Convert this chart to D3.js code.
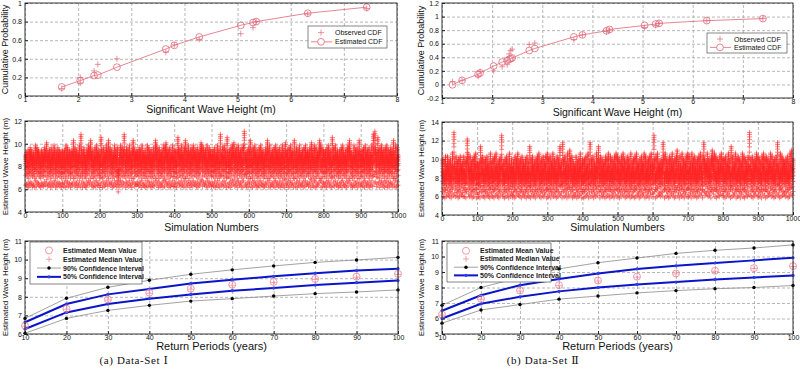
<!DOCTYPE html>
<html>
<head>
<meta charset="utf-8">
<script src="https://cdn.jsdelivr.net/npm/d3@7"></script>
<style>
body { margin: 0; background: #fff; }
svg { display: block; font-family: "Liberation Sans", Arial, sans-serif; }
</style>
</head>
<body>
<div id="container"></div>
<script>
// ---------- data: cumulative probability (top row) ----------
const estHeightA = [1.69, 2.04, 2.30, 2.37, 2.73, 3.65, 3.81, 4.28, 5.06, 5.29, 5.35, 6.32, 7.43];
const estProbA   = [0.097, 0.165, 0.22, 0.225, 0.31, 0.505, 0.545, 0.635, 0.76, 0.79, 0.80, 0.89, 0.955];
const obsHeightA = [1.69, 2.04, 2.04, 2.30, 2.37, 2.73, 3.65, 3.81, 4.28, 5.06, 5.29, 5.35, 6.32, 7.43];
const obsProbA   = [0.08, 0.14, 0.20, 0.27, 0.34, 0.40, 0.47, 0.55, 0.61, 0.67, 0.735, 0.80, 0.88, 0.94];

const estHeightB = [1.21, 1.40, 1.72, 1.76, 2.03, 2.20, 2.30, 2.34, 2.37, 2.40, 2.74, 2.85, 3.63, 3.80, 4.28, 4.34, 5.04, 5.26, 5.33, 6.28, 7.40];
const estProbB   = [-0.005, 0.06, 0.15, 0.17, 0.27, 0.33, 0.35, 0.37, 0.38, 0.39, 0.50, 0.53, 0.70, 0.73, 0.79, 0.81, 0.87, 0.89, 0.90, 0.94, 0.97];
const obsProbB   = [0.04, 0.06, 0.12, 0.19, 0.20, 0.26, 0.29, 0.45, 0.50, 0.52, 0.59, 0.61, 0.66, 0.73, 0.78, 0.80, 0.84, 0.87, 0.90, 0.94, 0.97];

// ---------- data: return periods (bottom row) ----------
const returnPeriods = [10, 20, 30, 40, 50, 60, 70, 80, 90, 100];

const meanA     = [6.45, 7.36, 7.86, 8.22, 8.44, 8.65, 8.80, 8.96, 9.08, 9.23];
const medianA   = [6.42, 7.33, 7.83, 8.19, 8.41, 8.62, 8.77, 8.93, 9.05, 9.20];
const ci90HighA = [6.84, 7.92, 8.51, 8.89, 9.21, 9.45, 9.66, 9.85, 9.98, 10.12];
const ci50HighA = [6.63, 7.61, 8.13, 8.42, 8.71, 8.92, 9.10, 9.26, 9.41, 9.51];
const ci50LowA  = [6.27, 7.16, 7.61, 7.90, 8.13, 8.33, 8.47, 8.63, 8.76, 8.87];
const ci90LowA  = [6.04, 6.84, 7.27, 7.54, 7.77, 7.90, 8.04, 8.17, 8.26, 8.37];

const meanB     = [6.25, 7.27, 7.80, 8.15, 8.45, 8.70, 8.90, 9.08, 9.25, 9.38];
const medianB   = [6.22, 7.24, 7.77, 8.12, 8.42, 8.67, 8.87, 9.05, 9.22, 9.35];
const ci90HighB = [6.85, 8.00, 8.65, 9.20, 9.60, 9.90, 10.20, 10.40, 10.55, 10.75];
const ci50HighB = [6.50, 7.50, 8.15, 8.55, 8.90, 9.20, 9.40, 9.58, 9.75, 9.92];
const ci50LowB  = [6.00, 6.95, 7.40, 7.75, 8.00, 8.20, 8.35, 8.52, 8.65, 8.78];
const ci90LowB  = [5.70, 6.55, 6.90, 7.25, 7.45, 7.65, 7.80, 7.92, 8.00, 8.13];

// ---------- data: per-simulation level (middle row), one code per 2 simulations ----------
// codes read off as relative height in the band; letters mark the spikes, 'z' the low outlier
const simLevelA = [
  "4536257463" + "4528375643" + "2654374693" + "5462735486" + "2537463526",
  "5362847356" + "2465a37462" + "5483c62574" + "3265847a53" + "6247385462",
  "4b62735486" + "3a57462538" + "4637z25847" + "36c5274638" + "4526a73546",
  "5374628453" + "6248375362" + "4735a84627" + "3546283795" + "4627354836",
  "3625b74638" + "4527a36485" + "2647385463" + "7254698375" + "4638257463",
  "4637254836" + "2c54738462" + "b536274859" + "3647285463" + "728d453627",
  "5a36274853" + "6247385462" + "3574a62835" + "4637285463" + "7254836295",
  "4627385462" + "a537264835" + "4627384563" + "5729463827" + "3546a82736",
  "5362748536" + "2b47385462" + "3647285436" + "2748a63524" + "8364725a63",
  "4637285463" + "725483c6d7" + "35b6274853" + "6274836257" + "463a528374"
].join("");
const simLevelB = [
  "7362835846" + "372594f638" + "4627385463" + "83627d9538" + "4627385926",
  "5362b74836" + "2748536294" + "6372849536" + "2748e53627" + "3846295374",
  "4628375946" + "3728465372" + "8463b27485" + "3627485936" + "2748365829",
  "3748265937" + "4628375b46" + "2c73846295" + "3a74826354" + "8263749527",
  "6273845926" + "c374826539" + "47b6284735" + "6283749528" + "3746285938",
  "4726385947" + "2638475293" + "6472839465" + "2738465928" + "3647285936",
  "5e72839465" + "3746c82937" + "4628375946" + "2738a46285" + "3947265839",
  "3846295738" + "4627385946" + "28c7465937" + "4628a75938" + "2746385947",
  "4728365947" + "2b38465927" + "3847265938" + "2746385f47" + "3826475938",
  "4736285947" + "2837465938" + "4627385c46" + "2938475637" + "4826395a47"
].join("");
const levelCode = { a: 2.0, b: 2.5, c: 3.0, d: 3.5, e: 4.0, f: 4.4, z: -2.8 };

// ---------- tick labels ----------
const cdfXTicks = [1, 2, 3, 4, 5, 6, 7, 8];
const cdfYTicksA = [0, 0.2, 0.4, 0.6, 0.8, 1];
const cdfYTicksB = [-0.2, 0, 0.2, 0.4, 0.6, 0.8, 1, 1.2];
const simXTicks = [0, 100, 200, 300, 400, 500, 600, 700, 800, 900, 1000];
const simYTicksA = [4, 6, 8, 10, 12];
const simYTicksB = [4, 6, 8, 10, 12, 14];
const rpYTicksA = [6, 7, 8, 9, 10, 11];
const rpYTicksB = [5, 6, 7, 8, 9, 10, 11];

const svg = d3.select('#container').append('svg')
  .attr('width', 800).attr('height', 369);

const fmt = d => String(+(+d).toFixed(1));

function plusPath(cx, cy, s) {
  return `M${cx - s},${cy}H${cx + s}M${cx},${cy - s}V${cy + s}`;
}

// axes, grid and labels of one panel
function panel(p) {
  const x = d3.scaleLinear().domain(p.xDomain).range([p.left, p.right]);
  const y = d3.scaleLinear().domain(p.yDomain).range([p.bottom, p.top]);
  const w = p.right - p.left, h = p.bottom - p.top;

  const gx = svg.append('g').attr('transform', `translate(0,${p.bottom})`)
    .call(d3.axisBottom(x).tickValues(p.xTicks).tickSize(-h).tickFormat(''));
  const gy = svg.append('g').attr('transform', `translate(${p.left},0)`)
    .call(d3.axisLeft(y).tickValues(p.yTicks).tickSize(-w).tickFormat(''));
  [gx, gy].forEach(g => {
    g.select('.domain').remove();
    g.selectAll('line').attr('stroke', '#9a9a9a').attr('stroke-width', 0.7)
      .attr('stroke-dasharray', '3,2');
  });

  const ax = svg.append('g').attr('transform', `translate(0,${p.bottom})`)
    .call(d3.axisBottom(x).tickValues(p.xTicks).tickSize(-3).tickPadding(1.5).tickFormat(fmt));
  const ay = svg.append('g').attr('transform', `translate(${p.left},0)`)
    .call(d3.axisLeft(y).tickValues(p.yTicks).tickSize(-3).tickPadding(3).tickFormat(fmt));
  [ax, ay].forEach(g => {
    g.select('.domain').remove();
    g.attr('font-family', null).attr('font-size', null);
    g.selectAll('text').attr('font-size', 7).attr('fill', '#111');
    g.selectAll('line').attr('stroke', '#222');
  });

  svg.append('text')
    .attr('x', (p.left + p.right) / 2).attr('y', p.titleY)
    .attr('text-anchor', 'middle').attr('font-size', p.titleSize).attr('fill', '#111')
    .text(p.xTitle);
  svg.append('text')
    .attr('transform', `translate(${p.yTitleX},${(p.top + p.bottom) / 2}) rotate(-90)`)
    .attr('text-anchor', 'middle').attr('font-size', p.yTitleSize).attr('fill', '#111')
    .text(p.yTitle);
  return { x, y, p };
}

function frame(c) {
  const p = c.p;
  svg.append('rect')
    .attr('x', p.left).attr('y', p.top)
    .attr('width', p.right - p.left).attr('height', p.bottom - p.top)
    .attr('fill', 'none').attr('stroke', '#222').attr('stroke-width', 0.9);
}

// ---------- top row: CDF ----------
const cdfColor = '#e06878';
function cdfPanel(c, estH, estP, obsH, obsP) {
  svg.append('path')
    .datum(estH.map((v, i) => [v, estP[i]]))
    .attr('fill', 'none').attr('stroke', cdfColor).attr('stroke-width', 0.8)
    .attr('d', d3.line().x(d => c.x(d[0])).y(d => c.y(d[1])));
  svg.append('g').selectAll('circle')
    .data(estH.map((v, i) => [v, estP[i]])).join('circle')
    .attr('cx', d => c.x(d[0])).attr('cy', d => c.y(d[1])).attr('r', 3.4)
    .attr('fill', 'none').attr('stroke', cdfColor).attr('stroke-width', 0.8);
  svg.append('g').selectAll('path')
    .data(obsH.map((v, i) => [v, obsP[i]])).join('path')
    .attr('d', d => plusPath(c.x(d[0]), c.y(d[1]), 3))
    .attr('stroke', cdfColor).attr('stroke-width', 0.7);
}

function cdfLegend(x0, y0, w, h) {
  const g = svg.append('g');
  g.append('rect').attr('x', x0).attr('y', y0).attr('width', w).attr('height', h)
    .attr('fill', '#fff').attr('stroke', '#555').attr('stroke-width', 0.7);
  const sx = x0 + 13, tx = x0 + 27;
  const r1 = y0 + h * 0.3, r2 = y0 + h * 0.72;
  g.append('path').attr('d', plusPath(sx, r1, 3)).attr('stroke', cdfColor).attr('stroke-width', 0.7);
  g.append('line').attr('x1', sx - 10).attr('x2', sx + 11).attr('y1', r2).attr('y2', r2)
    .attr('stroke', cdfColor).attr('stroke-width', 0.8);
  g.append('circle').attr('cx', sx).attr('cy', r2).attr('r', 3.4)
    .attr('fill', '#fff').attr('stroke', cdfColor).attr('stroke-width', 0.8);
  g.selectAll('text').data(['Observed CDF', 'Estimated CDF']).join('text')
    .attr('x', tx).attr('y', (d, i) => (i ? r2 : r1) + 2.5)
    .attr('font-size', 7).attr('fill', '#111').text(d => d);
}

const topA = panel({ left: 25, right: 397, top: 3, bottom: 96, xDomain: [1, 8], yDomain: [0, 1],
  xTicks: cdfXTicks, yTicks: cdfYTicksA, xTitle: 'Significant Wave Height (m)', titleY: 113, titleSize: 10.5,
  yTitle: 'Cumulative Probability', yTitleX: 8, yTitleSize: 9 });
cdfPanel(topA, estHeightA, estProbA, obsHeightA, obsProbA);
frame(topA);
cdfLegend(308, 26, 79, 22);

const topB = panel({ left: 442, right: 793, top: 3, bottom: 98, xDomain: [1, 8], yDomain: [-0.2, 1.2],
  xTicks: cdfXTicks, yTicks: cdfYTicksB, xTitle: 'Significant Wave Height (m)', titleY: 115.5, titleSize: 10.5,
  yTitle: 'Cumulative Probability', yTitleX: 424, yTitleSize: 9 });
cdfPanel(topB, estHeightB, estProbB, estHeightB, obsProbB);
frame(topB);
cdfLegend(707, 33, 80, 20);

// ---------- middle row: simulated wave heights ----------
function simPanel(c, levels, mean, lo90, hi90) {
  const n = levels.length;
  const pts = [];
  for (let i = 0; i < n; i++) {
    const ch = levels[i];
    const z = ch in levelCode ? levelCode[ch] : (+ch - 5) * 0.4;
    const sim = (i + 1) * 1000 / n;
    mean.forEach((m, k) => pts.push([sim, m + z * (hi90[k] - lo90[k]) / 3.29]));
  }
  svg.append('g').selectAll('path').data(pts).join('path')
    .attr('d', d => plusPath(c.x(d[0]), c.y(d[1]), 2.5))
    .attr('stroke', '#ff2626').attr('stroke-width', 0.8).attr('opacity', 0.75);
}

const midA = panel({ left: 25, right: 398, top: 121, bottom: 212, xDomain: [0, 1000], yDomain: [4, 12],
  xTicks: simXTicks, yTicks: simYTicksA, xTitle: 'Simulation Numbers', titleY: 231, titleSize: 10.5,
  yTitle: 'Estimated Wave Height (m)', yTitleX: 8, yTitleSize: 8 });
simPanel(midA, simLevelA, meanA, ci90LowA, ci90HighA);
frame(midA);

const midB = panel({ left: 442, right: 793, top: 122, bottom: 215, xDomain: [0, 1000], yDomain: [4, 14],
  xTicks: simXTicks, yTicks: simYTicksB, xTitle: 'Simulation Numbers', titleY: 231, titleSize: 10.5,
  yTitle: 'Estimated Wave Height (m)', yTitleX: 424, yTitleSize: 8 });
simPanel(midB, simLevelB, meanB, ci90LowB, ci90HighB);
frame(midB);

// ---------- bottom row: return periods ----------
const meanColor = '#ee8090';
const blue = '#0a14c8';
function rpPanel(c, mean, median, lo90, hi90, lo50, hi50) {
  const line = d3.line().x((d, i) => c.x(returnPeriods[i])).y(d => c.y(d));
  [lo90, hi90].forEach(s => {
    svg.append('path').datum(s).attr('d', line).attr('fill', 'none')
      .attr('stroke', '#8a8a8a').attr('stroke-width', 0.8);
    svg.append('g').selectAll('circle').data(s).join('circle')
      .attr('cx', (d, i) => c.x(returnPeriods[i])).attr('cy', d => c.y(d)).attr('r', 1.7).attr('fill', '#000');
  });
  [lo50, hi50].forEach(s => {
    svg.append('path').datum(s).attr('d', line).attr('fill', 'none')
      .attr('stroke', blue).attr('stroke-width', 2);
    svg.append('g').selectAll('circle').data(s).join('circle')
      .attr('cx', (d, i) => c.x(returnPeriods[i])).attr('cy', d => c.y(d)).attr('r', 1.6).attr('fill', '#2a3cf0');
  });
  svg.append('g').selectAll('circle').data(mean).join('circle')
    .attr('cx', (d, i) => c.x(returnPeriods[i])).attr('cy', d => c.y(d)).attr('r', 3.5)
    .attr('fill', 'none').attr('stroke', meanColor).attr('stroke-width', 0.8);
  svg.append('g').selectAll('path').data(median).join('path')
    .attr('d', (d, i) => plusPath(c.x(returnPeriods[i]), c.y(d), 3))
    .attr('stroke', meanColor).attr('stroke-width', 0.7);
}

function rpLegend(x0, y0, w, h) {
  const g = svg.append('g');
  g.append('rect').attr('x', x0).attr('y', y0).attr('width', w).attr('height', h)
    .attr('fill', '#fff').attr('stroke', '#555').attr('stroke-width', 0.7);
  const sx = x0 + 19, tx = x0 + 33;
  const rows = [0, 1, 2, 3].map(i => y0 + h * (0.2 + 0.21 * i));
  g.append('circle').attr('cx', sx).attr('cy', rows[0]).attr('r', 3.5)
    .attr('fill', 'none').attr('stroke', meanColor).attr('stroke-width', 0.8);
  g.append('path').attr('d', plusPath(sx, rows[1], 3)).attr('stroke', meanColor).attr('stroke-width', 0.7);
  g.append('line').attr('x1', sx - 12).attr('x2', sx + 12).attr('y1', rows[2]).attr('y2', rows[2])
    .attr('stroke', '#8a8a8a').attr('stroke-width', 0.8);
  g.append('circle').attr('cx', sx).attr('cy', rows[2]).attr('r', 1.7).attr('fill', '#000');
  g.append('line').attr('x1', sx - 12).attr('x2', sx + 12).attr('y1', rows[3]).attr('y2', rows[3])
    .attr('stroke', blue).attr('stroke-width', 2);
  g.append('circle').attr('cx', sx).attr('cy', rows[3]).attr('r', 1.6).attr('fill', '#2a3cf0');
  g.selectAll('text')
    .data(['Estimated Mean Value', 'Estimated Median Value', '90% Confidence Interval', '50% Confidence Interval'])
    .join('text')
    .attr('x', tx).attr('y', (d, i) => rows[i] + 2.5)
    .attr('font-size', 7).attr('font-weight', 'bold').attr('fill', '#222').text(d => d);
}

const botA = panel({ left: 25, right: 398, top: 241, bottom: 334, xDomain: [10, 100], yDomain: [6, 11],
  xTicks: returnPeriods, yTicks: rpYTicksA, xTitle: 'Return Periods (years)', titleY: 350, titleSize: 11,
  yTitle: 'Estimated Wave Height (m)', yTitleX: 8, yTitleSize: 8 });
rpPanel(botA, meanA, medianA, ci90LowA, ci90HighA, ci50LowA, ci50HighA);
frame(botA);
rpLegend(30, 242, 112, 42);

const botB = panel({ left: 442, right: 793, top: 241, bottom: 334, xDomain: [10, 100], yDomain: [5, 11],
  xTicks: returnPeriods, yTicks: rpYTicksB, xTitle: 'Return Periods (years)', titleY: 350, titleSize: 11,
  yTitle: 'Estimated Wave Height (m)', yTitleX: 424, yTitleSize: 8 });
rpPanel(botB, meanB, medianB, ci90LowB, ci90HighB, ci50LowB, ci50HighB);
frame(botB);
rpLegend(447, 243, 104, 39);

// ---------- captions ----------
svg.selectAll('text.caption')
  .data([{ x: 134, t: '(a) Data-Set Ⅰ' }, { x: 543, t: '(b) Data-Set Ⅱ' }])
  .join('text').attr('class', 'caption')
  .attr('x', d => d.x).attr('y', 364).attr('text-anchor', 'middle')
  .attr('font-family', '"Liberation Serif", "DejaVu Serif", serif')
  .attr('font-size', 11).attr('letter-spacing', 0.6).attr('fill', '#111')
  .text(d => d.t);
</script>
</body>
</html>
